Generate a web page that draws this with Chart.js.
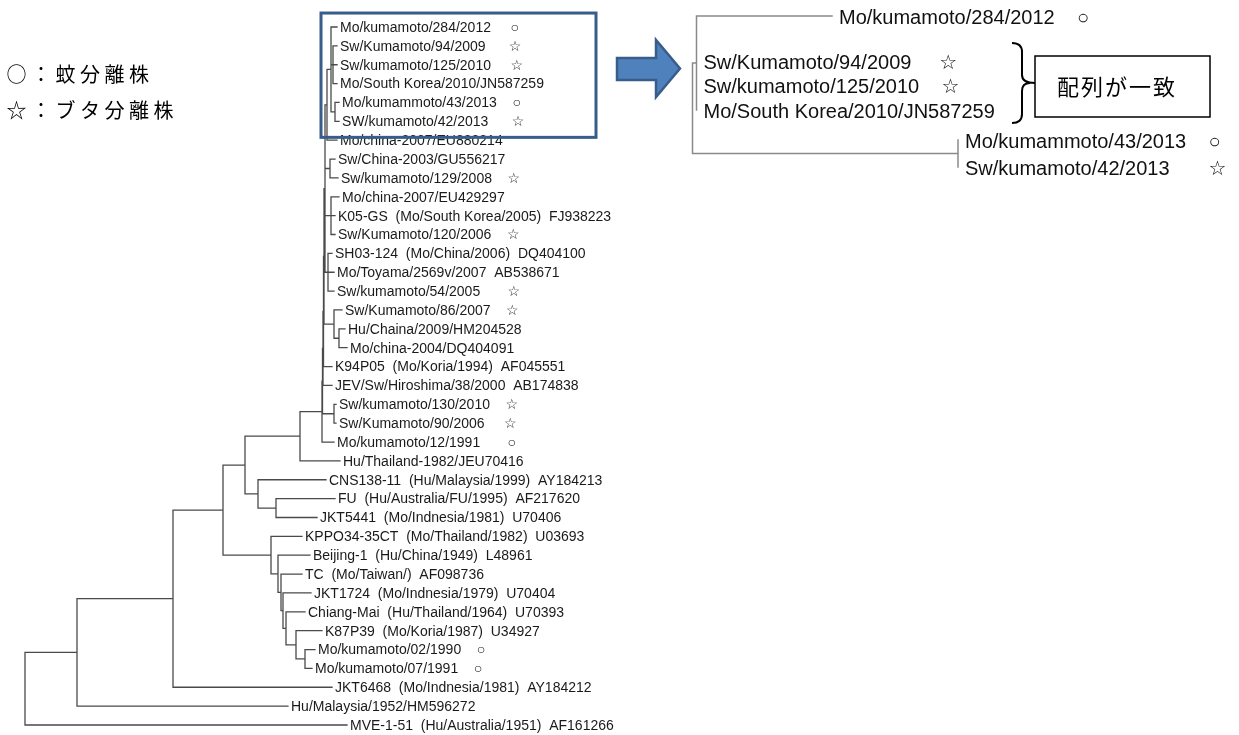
<!DOCTYPE html>
<html><head><meta charset="utf-8">
<script src="https://cdn.jsdelivr.net/npm/chart.js@4.4.0/dist/chart.umd.min.js"></script>
<style>html,body{margin:0;padding:0;background:#fff;}canvas{display:block;}</style>
</head><body>
<canvas id="c" width="1239" height="735"></canvas>
<script>
// ---------------- data ----------------
const leafLabels = [
  'Mo/kumamoto/284/2012     ○',
  'Sw/Kumamoto/94/2009      ☆',
  'Sw/kumamoto/125/2010     ☆',
  'Mo/South Korea/2010/JN587259',
  'Mo/kumammoto/43/2013    ○',
  'SW/kumamoto/42/2013      ☆',
  'Mo/china-2007/EU880214',
  'Sw/China-2003/GU556217',
  'Sw/kumamoto/129/2008    ☆',
  'Mo/china-2007/EU429297',
  'K05-GS  (Mo/South Korea/2005)  FJ938223',
  'Sw/Kumamoto/120/2006    ☆',
  'SH03-124  (Mo/China/2006)  DQ404100',
  'Mo/Toyama/2569v/2007  AB538671',
  'Sw/kumamoto/54/2005       ☆',
  'Sw/Kumamoto/86/2007    ☆',
  'Hu/Chaina/2009/HM204528',
  'Mo/china-2004/DQ404091',
  'K94P05  (Mo/Koria/1994)  AF045551',
  'JEV/Sw/Hiroshima/38/2000  AB174838',
  'Sw/kumamoto/130/2010    ☆',
  'Sw/Kumamoto/90/2006     ☆',
  'Mo/kumamoto/12/1991       ○',
  'Hu/Thailand-1982/JEU70416',
  'CNS138-11  (Hu/Malaysia/1999)  AY184213',
  'FU  (Hu/Australia/FU/1995)  AF217620',
  'JKT5441  (Mo/Indnesia/1981)  U70406',
  'KPPO34-35CT  (Mo/Thailand/1982)  U03693',
  'Beijing-1  (Hu/China/1949)  L48961',
  'TC  (Mo/Taiwan/)  AF098736',
  'JKT1724  (Mo/Indnesia/1979)  U70404',
  'Chiang-Mai  (Hu/Thailand/1964)  U70393',
  'K87P39  (Mo/Koria/1987)  U34927',
  'Mo/kumamoto/02/1990    ○',
  'Mo/kumamoto/07/1991    ○',
  'JKT6468  (Mo/Indnesia/1981)  AY184212',
  'Hu/Malaysia/1952/HM596272',
  'MVE-1-51  (Hu/Australia/1951)  AF161266'
];
// depth (distance from left, tree units) of each leaf tip
const leafTip = [337,337,337,337,339,339,337,335,338,339,335,335,332,334,334,342,345,347,
                 332,332,336,336,334,340,326,335,317,302,310,302,311,305,322,315,312,332,288,347];
// internal nodes: id, depth, children (numbers = leaf rows, strings = nodes)
const nodeIds = ['root','A','B','C','D','F','H','AE','AK','AL','AM','AN','V','R','S','T','W','X','AA','AB','AC','Q',
                 'G','I','E','J','K','L','M','N','O'];
const nodeDepth = [25,77,173,223,245,300,322,322.5,323,323.5,324,325,327,331,333,335,330,331,328,334,339,334,
                   258,276,271,278,281,283,286,296,305];
const nodeKids = [
  ['A',37], ['B',36], ['C',35], ['D','E'], ['F','G'], ['H',23], ['AE',22], ['AK','Q'], ['AL',19], ['AM',18],
  ['AN','AB'], ['V','W','X','AA'], ['R',6], [0,'S','T'], [1,2,3], [4,5], [7,8], [9,10,11], [12,13,14], [15,'AC'], [16,17], [20,21],
  [24,'I'], [25,26], [27,'J'], [28,'K'], [29,'L'], [30,'M'], [31,'N'], [32,'O'], [33,34]
];

// enlarged sub-tree (inset)
const insetLabels = [
  'Mo/kumamoto/284/2012    ○',
  'Sw/Kumamoto/94/2009     ☆',
  'Sw/kumamoto/125/2010    ☆',
  'Mo/South Korea/2010/JN587259',
  'Mo/kumammoto/43/2013    ○',
  'Sw/kumamoto/42/2013       ☆'
];
const insetRow = [16, 61, 85, 110, 140, 167];
const insetTip = [832, 696.5, 696.5, 696.5, 958, 958];
const insetNodeIds = ['iR','iU','iT'];
const insetNodeDepth = [692.5, 696.5, 958];
const insetNodeKids = [['iU','iT'], [0,1,2,3], [4,5]];

const legendItems = ['○：蚊分離株', '☆：ブタ分離株'];
const calloutText = '配列が一致';

// ---------------- tree geometry (data -> segments) ----------------
function buildTree(ids, depth, kids, tips, rowOf) {
  const idx = {}; ids.forEach((id, i) => idx[id] = i);
  const cache = {};
  const yOf = k => {
    if (typeof k === 'number') return rowOf(k);
    if (cache[k] !== undefined) return cache[k];
    const ch = kids[idx[k]];
    return cache[k] = (yOf(ch[0]) + yOf(ch[ch.length - 1])) / 2;
  };
  const xOf = k => typeof k === 'number' ? tips[k] : depth[idx[k]];
  const pts = [];
  const gap = () => pts.push({x: pts[pts.length - 1].x, y: null});
  ids.forEach((id, i) => {
    const ch = kids[i], x = depth[i];
    pts.push({x, y: yOf(ch[0])}, {x, y: yOf(ch[ch.length - 1])}); gap();
    ch.forEach(c => {
      const y = yOf(c), cx = xOf(c);
      if (cx > x) { pts.push({x, y}, {x: cx, y}); gap(); }
    });
  });
  return pts;
}
const mainPts = buildTree(nodeIds, nodeDepth, nodeKids, leafTip, i => i);
const insetPts = buildTree(insetNodeIds, insetNodeDepth, insetNodeKids, insetTip, i => insetRow[i]);

// ---------------- decorations & labels ----------------
const decor = {
  id: 'decor',
  afterDraw(chart) {
    const ctx = chart.ctx;
    const sx = chart.scales.x, sy = chart.scales.y, sx2 = chart.scales.x2, sy2 = chart.scales.y2;
    ctx.save();
    // main tree labels
    ctx.font = '14px "Liberation Sans", Arial, "DejaVu Sans", sans-serif';
    ctx.fillStyle = '#1a1a1a';
    ctx.textBaseline = 'middle';
    ctx.textAlign = 'left';
    leafLabels.forEach((t, i) => ctx.fillText(t, sx.getPixelForValue(leafTip[i]) + 3, sy.getPixelForValue(i) + 1));
    // inset labels
    ctx.font = '20px "Liberation Sans", Arial, "DejaVu Sans", sans-serif';
    ctx.fillStyle = '#111';
    insetLabels.forEach((t, i) => ctx.fillText(t, sx2.getPixelForValue(insetTip[i]) + 7, sy2.getPixelForValue(insetRow[i]) + 2));

    // blue frame around the enlarged clade
    ctx.strokeStyle = '#385D8A';
    ctx.lineWidth = 3;
    ctx.strokeRect(sx.getPixelForValue(321), sy.getPixelForValue(-0.74), sx.getPixelForValue(596) - sx.getPixelForValue(321),
                   sy.getPixelForValue(5.85) - sy.getPixelForValue(-0.74));

    // block arrow
    const ax = v => sx2.getPixelForValue(v), ay = v => sy2.getPixelForValue(v);
    ctx.beginPath();
    ctx.moveTo(ax(617), ay(58)); ctx.lineTo(ax(656), ay(58)); ctx.lineTo(ax(656), ay(40));
    ctx.lineTo(ax(680), ay(68.5)); ctx.lineTo(ax(656), ay(97)); ctx.lineTo(ax(656), ay(80));
    ctx.lineTo(ax(617), ay(80)); ctx.closePath();
    ctx.fillStyle = '#4F81BD'; ctx.fill();
    ctx.strokeStyle = '#385D8A'; ctx.lineWidth = 2.5; ctx.lineJoin = 'miter'; ctx.stroke();

    // brace
    ctx.beginPath();
    ctx.strokeStyle = '#000'; ctx.lineWidth = 2;
    ctx.moveTo(ax(1012), ay(43)); ctx.quadraticCurveTo(ax(1022), ay(43), ax(1022), ay(52));
    ctx.lineTo(ax(1022), ay(75)); ctx.quadraticCurveTo(ax(1022), ay(83), ax(1035), ay(83));
    ctx.moveTo(ax(1030), ay(83)); ctx.quadraticCurveTo(ax(1022), ay(83), ax(1022), ay(91));
    ctx.lineTo(ax(1022), ay(114)); ctx.quadraticCurveTo(ax(1022), ay(123), ax(1012), ay(123));
    ctx.stroke();
    // callout box
    ctx.lineWidth = 1.5;
    ctx.strokeRect(ax(1035), ay(56), ax(1210) - ax(1035), ay(117) - ay(56));
    ctx.font = '22px "Noto Sans CJK JP", sans-serif';
    ctx.fillStyle = '#000';
    ctx.textAlign = 'center';
    [...calloutText].forEach((ch, i) => ctx.fillText(ch, ax(1068 + 24 * i), ay(87)));

    // legend
    ctx.font = '20px "Noto Sans CJK JP", sans-serif';
    legendItems.forEach((s, r) => {
      [...s].forEach((ch, i) => ctx.fillText(ch, 16.5 + 24.5 * i, [74, 110][r]));
    });
    ctx.restore();
  }
};

new Chart(document.getElementById('c'), {
  type: 'line',
  data: { datasets: [
    { data: mainPts, xAxisID: 'x', yAxisID: 'y', borderColor: '#4a4a4a', borderWidth: 1.3,
      pointRadius: 0, spanGaps: false, tension: 0, fill: false, borderCapStyle: 'square' },
    { data: insetPts, xAxisID: 'x2', yAxisID: 'y2', borderColor: '#8a8a8a', borderWidth: 1.5,
      pointRadius: 0, spanGaps: false, tension: 0, fill: false, borderCapStyle: 'square' }
  ]},
  options: {
    responsive: false, animation: false, events: [],
    layout: { padding: 0 },
    plugins: { legend: { display: false }, tooltip: { enabled: false }, title: { display: false } },
    scales: {
      x:  { type: 'linear', display: false, min: 0, max: 1239 },
      y:  { type: 'linear', display: false, min: -1.4312, max: 37.530, reverse: true },
      x2: { type: 'linear', display: false, min: 0, max: 1239 },
      y2: { type: 'linear', display: false, min: 0, max: 735, reverse: true }
    }
  },
  plugins: [decor]
});
</script>
</body></html>
